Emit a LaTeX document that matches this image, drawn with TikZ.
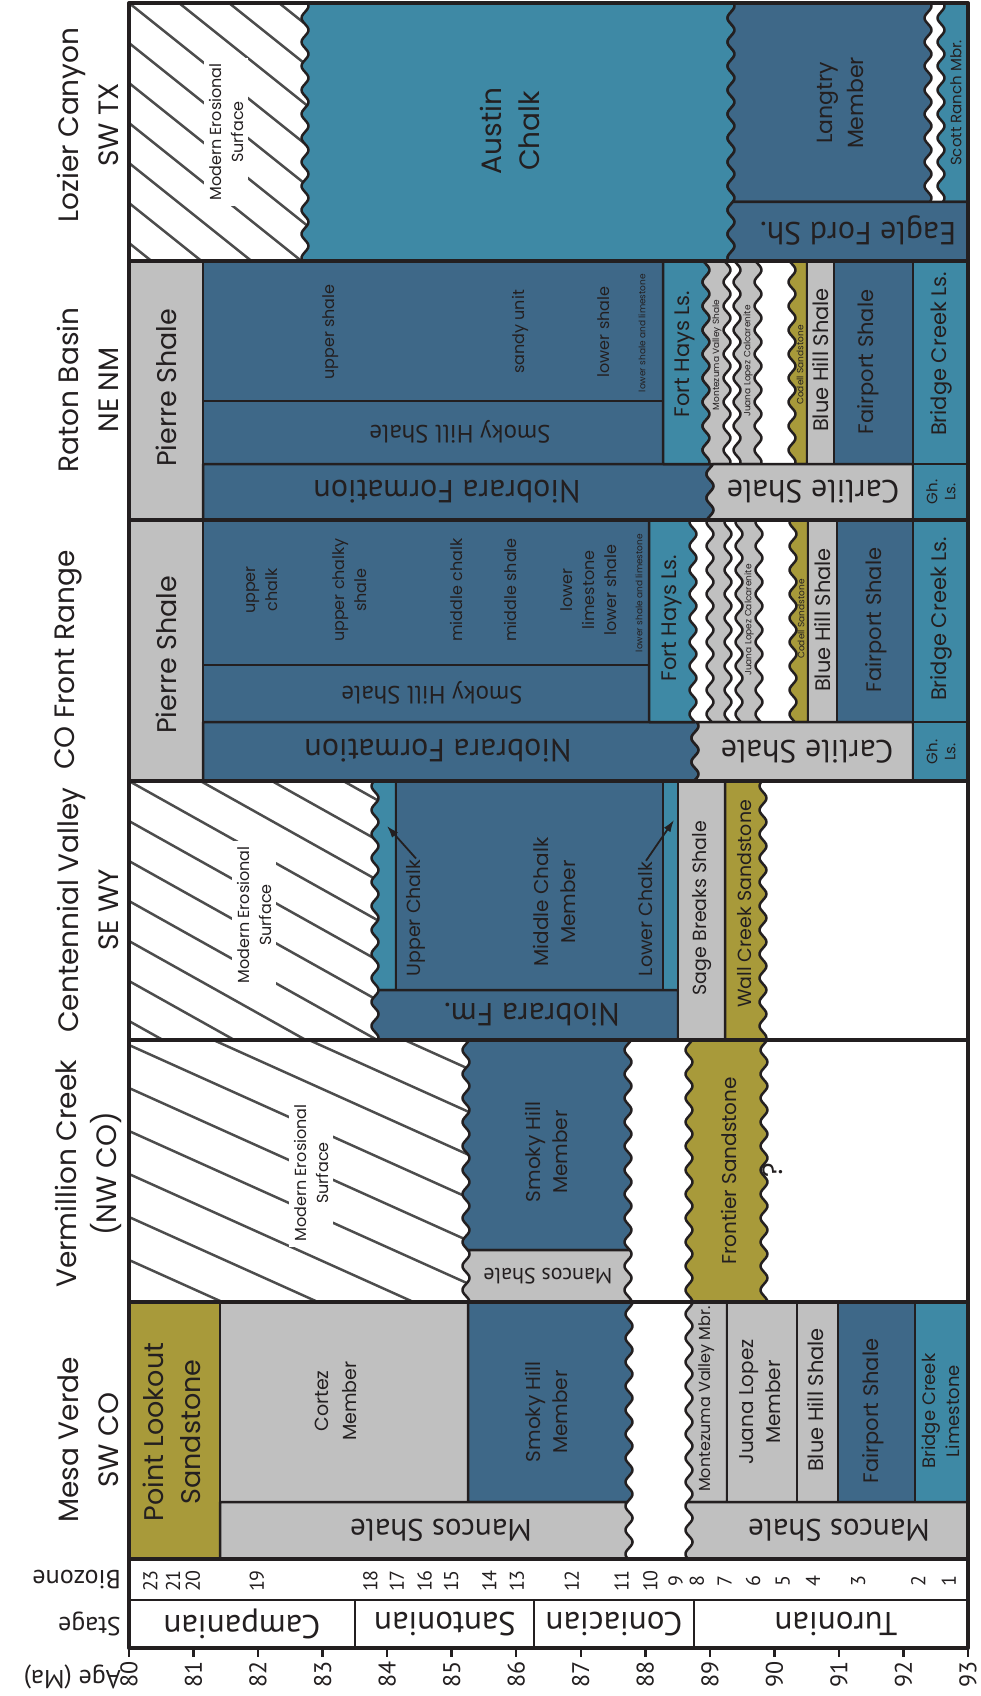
\documentclass[tikz,border=0pt]{standalone}
\usepackage{fontspec}
\setmainfont{Poppins}
\newfontfamily\ptsans{PT Sans}
\usetikzlibrary{arrows.meta}

\definecolor{ink}{HTML}{231F20}
\definecolor{chalkblue}{HTML}{3E89A5}
\definecolor{shaleblue}{HTML}{3E6888}
\definecolor{shalegray}{HTML}{C0C0C0}
\definecolor{sandolive}{HTML}{A89A3A}
\definecolor{hatchgray}{HTML}{4D4D4D}

\newcommand{\fs}[2]{\fontsize{#1}{#2}\selectfont}
\newcommand{\wvs}[3]{plot[smooth,variable=\yy,domain=#2:#3,samples=120] ({#1+3.5*sin(15*mod(\yy,24))},\yy)}
\newcommand{\wvt}[3]{--plot[smooth,variable=\yy,domain=#2:#3,samples=120] ({#1+3.5*sin(15*mod(\yy,24))},\yy)}

\tikzset{
  unit/.style={draw=ink, line width=2.5pt},
  sep/.style={draw=ink, line width=4pt},
  hatch/.style={draw=hatchgray, line width=2.5pt},
  lbl/.style={rotate=90, align=center, text=ink, inner sep=1pt},
  erosion/.style={lbl, font=\fs{16}{22}, fill=white, inner sep=5pt},
  flp/.style={rotate=180, font=\ptsans\fs{32}{36}, text=ink, inner sep=1pt},
  hdr/.style={rotate=90, align=center, text=ink, font=\fs{28}{40}},
  sml/.style={font=\fs{16}{22}},
  mid/.style={font=\fs{21}{26}},
  tiny/.style={font=\fs{9}{11}},
  bzn/.style={rotate=90, font=\ptsans\fs{20}{21}, text=ink, inner sep=0pt},
  agl/.style={rotate=90, font=\ptsans\fs{24}{26}, text=ink, inner sep=0pt},
  pointer/.style={-{Latex[length=12pt,width=8pt]}, line width=1.8pt, draw=ink}
}

\begin{document}
\begin{tikzpicture}[x=1pt, y=-1pt, line join=round]
  \useasboundingbox (0,0) rectangle (981,1696);

  % Lozier Canyon
  \begin{scope}
    \clip (129,3) \wvt{305}{3}{261} -- (129,261) -- cycle;
    \foreach \k in {-6,...,7} \draw[hatch] (129,3+40*\k) -- ++(250,200);
  \end{scope}
  \node[erosion] (lzMes) at (226,132) {Modern Erosional\\Surface};
  \filldraw[unit,fill=chalkblue] \wvs{305}{3}{261} \wvt{731}{261}{3} -- cycle;
  \filldraw[unit,fill=shaleblue] \wvs{731}{3}{202} \wvt{928}{202}{3} -- cycle;
  \filldraw[unit,fill=chalkblue] \wvs{941}{3}{202} -- (968,202) -- (968,3) -- cycle;
  \filldraw[unit,fill=shaleblue] \wvs{731}{202}{261} -- (968,261) -- (968,202) -- cycle;
  \node[lbl,font=\fs{28}{38}] (lzAus) at (510,131) {Austin\\Chalk};
  \node[lbl,font=\fs{22}{31}] (lzLan) at (840,103) {Langtry\\Member};
  \node[lbl,font=\fs{15}{18}] (lzSco) at (956,103) {Scott Ranch Mbr.};
  \node[flp] (lzEag) at (858,231) {Eagle Ford Sh.};
  \node[hdr] (hLoz) at (88,125) {Lozier Canyon\\SW TX};

  % Raton Basin
  \filldraw[unit,fill=shalegray] (129,261) rectangle (203,520);
  \filldraw[unit,fill=shaleblue] (203,261) rectangle (663,401);
  \filldraw[unit,fill=shaleblue] (203,401) rectangle (663,464);
  \filldraw[unit,fill=shaleblue] (203,464) -- (203,520) \wvt{710}{520}{464} -- cycle;
  \filldraw[unit,fill=chalkblue] (663,261) \wvt{706}{261}{464} -- (663,464) -- cycle;
  \filldraw[unit,fill=shalegray] \wvs{706}{261}{464} \wvt{727}{464}{261} -- cycle;
  \filldraw[unit,fill=shalegray] \wvs{737}{261}{464} \wvt{758}{464}{261} -- cycle;
  \filldraw[unit,fill=sandolive] \wvs{792}{261}{464} -- (807,464) -- (807,261) -- cycle;
  \filldraw[unit,fill=shalegray] (807,261) rectangle (834,464);
  \filldraw[unit,fill=shaleblue] (834,261) rectangle (913,464);
  \filldraw[unit,fill=chalkblue] (913,261) rectangle (968,464);
  \filldraw[unit,fill=shalegray] \wvs{710}{464}{520} -- (913,520) -- (913,464) -- cycle;
  \filldraw[unit,fill=chalkblue] (913,464) rectangle (968,520);
  \node[lbl,font=\fs{27}{32}] (rbPie) at (166,388) {Pierre Shale};
  \node[lbl,sml] (rbUps) at (331,332) {upper shale};
  \node[lbl,sml] (rbSan) at (520,332) {sandy unit};
  \node[lbl,sml] (rbLos) at (604,332) {lower shale};
  \node[lbl,tiny] (rbLsl) at (642,333) {lower shale and limestone};
  \node[flp,font=\ptsans\fs{25}{30}] (rbSmo) at (460,432) {Smoky Hill Shale};
  \node[flp] (rbNio) at (447,492) {Niobrara Formation};
  \node[lbl,mid] (rbFor) at (685,354) {Fort Hays Ls.};
  \node[lbl,tiny] (rbMon) at (717,355) {Montezuma Valley Shale};
  \node[lbl,tiny] (rbJua) at (748,361) {Juana Lopez Calcarenite};
  \node[lbl,tiny] (rbCod) at (800,365) {Codell Sandstone};
  \node[lbl,mid] (rbBlu) at (821,360) {Blue Hill Shale};
  \node[lbl,mid] (rbFai) at (868,362) {Fairport Shale};
  \node[lbl,mid] (rbBri) at (941,354) {Bridge Creek Ls.};
  \node[flp] (rbCar) at (813,492) {Carlile Shale};
  \node[lbl,font=\fs{15}{18}] (rbGhl) at (941,492) {Gh.\\Ls.};
  \node[hdr] (hRat) at (88,390) {Raton Basin\\NE NM};

  % CO Front Range
  \filldraw[unit,fill=shalegray] (129,520) rectangle (203,781);
  \filldraw[unit,fill=shaleblue] (203,520) rectangle (649,665);
  \filldraw[unit,fill=shaleblue] (203,665) rectangle (649,722);
  \filldraw[unit,fill=shaleblue] (203,722) -- (203,781) \wvt{695}{781}{722} -- cycle;
  \filldraw[unit,fill=chalkblue] (649,520) \wvt{693}{520}{722} -- (649,722) -- cycle;
  \filldraw[unit,fill=shalegray] \wvs{710}{520}{722} \wvt{728}{722}{520} -- cycle;
  \filldraw[unit,fill=shalegray] \wvs{739}{520}{722} \wvt{759}{722}{520} -- cycle;
  \filldraw[unit,fill=sandolive] \wvs{793}{520}{722} -- (808,722) -- (808,520) -- cycle;
  \filldraw[unit,fill=shalegray] (808,520) rectangle (837,722);
  \filldraw[unit,fill=shaleblue] (837,520) rectangle (913,722);
  \filldraw[unit,fill=chalkblue] (913,520) rectangle (968,722);
  \filldraw[unit,fill=shalegray] \wvs{695}{722}{781} -- (913,781) -- (913,722) -- cycle;
  \filldraw[unit,fill=chalkblue] (913,722) rectangle (968,781);
  \node[lbl,font=\fs{27}{32}] (frPie) at (166,655) {Pierre Shale};
  \node[lbl,sml] (frUch) at (262,590) {upper\\chalk};
  \node[lbl,sml] (frUcs) at (350,590) {upper chalky\\shale};
  \node[lbl,sml] (frMch) at (456,590) {middle chalk};
  \node[lbl,sml] (frMsh) at (510,590) {middle shale};
  \node[lbl,sml] (frLls) at (589,590) {lower\\limestone\\lower shale};
  \node[lbl,tiny] (frLsl) at (639,593) {lower shale and limestone};
  \node[flp,font=\ptsans\fs{25}{30}] (frSmo) at (432,693) {Smoky Hill Shale};
  \node[flp] (frNio) at (438,751) {Niobrara Formation};
  \node[lbl,mid] (frFor) at (672,618) {Fort Hays Ls.};
  \node[lbl,tiny] (frJua) at (749,620) {Juana Lopez Calcarenite};
  \node[lbl,tiny] (frCod) at (801,619) {Codell Sandstone};
  \node[lbl,mid] (frBlu) at (823,620) {Blue Hill Shale};
  \node[lbl,mid] (frFai) at (876,620) {Fairport Shale};
  \node[lbl,mid] (frBri) at (941,619) {Bridge Creek Ls.};
  \node[flp] (frCar) at (807,752) {Carlile Shale};
  \node[lbl,font=\fs{15}{18}] (frGhl) at (941,752) {Gh.\\Ls.};
  \node[hdr] (hFro) at (68,660) {CO Front Range};

  % Centennial Valley
  \begin{scope}
    \clip (129,781) \wvt{375}{781}{1040} -- (129,1040) -- cycle;
    \foreach \k in {-8,...,7} \draw[hatch] (129,781+40*\k) -- ++(300,168);
  \end{scope}
  \node[erosion] (cvMes) at (254,915) {Modern Erosional\\Surface};
  \filldraw[unit,fill=chalkblue] \wvs{375}{781}{990} -- (396,990) -- (396,781) -- cycle;
  \filldraw[unit,fill=shaleblue] (396,781) rectangle (663,990);
  \filldraw[unit,fill=chalkblue] (663,781) rectangle (678,990);
  \filldraw[unit,fill=shaleblue] \wvs{375}{990}{1040} -- (678,1040) -- (678,990) -- cycle;
  \filldraw[unit,fill=shalegray] (678,781) rectangle (725,1040);
  \filldraw[unit,fill=sandolive] (725,781) \wvt{763}{781}{1040} -- (725,1040) -- cycle;
  \node[lbl,font=\fs{19}{24}] (cvUpp) at (416,918) {Upper Chalk};
  \node[lbl,font=\fs{20}{27}] (cvMid) at (554,902) {Middle Chalk\\Member};
  \node[lbl,font=\fs{19}{24}] (cvLow) at (646,919) {Lower Chalk};
  \node[flp] (cvNio) at (532,1015) {Niobrara Fm.};
  \node[lbl,font=\fs{19}{24}] (cvSag) at (702,908) {Sage Breaks Shale};
  \node[lbl,font=\fs{19}{24}] (cvWal) at (745,904) {Wall Creek Sandstone};
  \coordinate (cvUtip) at (387,826);
  \coordinate (cvLtip) at (674,820);
  \draw[pointer] (cvUpp.east) -- (cvUtip);
  \draw[pointer] (cvLow.east) -- (cvLtip);
  \node[hdr] (hCen) at (88,910) {Centennial Valley\\SE WY};

  % Vermillion Creek
  \begin{scope}
    \clip (129,1040) \wvt{466}{1040}{1302} -- (129,1302) -- cycle;
    \foreach \k in {-9,...,7} \draw[hatch] (129,1045+43*\k) -- ++(400,180);
  \end{scope}
  \node[erosion] (vcMes) at (311,1173) {Modern Erosional\\Surface};
  \filldraw[unit,fill=shaleblue] \wvs{466}{1040}{1250} \wvt{628}{1250}{1040} -- cycle;
  \filldraw[unit,fill=shalegray] \wvs{466}{1250}{1302} \wvt{628}{1302}{1250} -- cycle;
  \filldraw[unit,fill=sandolive] \wvs{689}{1040}{1302} \wvt{764}{1302}{1040} -- cycle;
  \node[lbl,font=\fs{20}{27}] (vcSmo) at (546,1152) {Smoky Hill\\Member};
  \node[flp,font=\ptsans\fs{22}{26}] (vcMan) at (548,1276) {Mancos Shale};
  \node[lbl,font=\fs{20}{24}] (vcFro) at (729,1171) {Frontier Sandstone};
  \node[lbl,font=\fs{28}{30}] (vcQue) at (773,1170) {?};
  \node[hdr] (hVer) at (88,1174) {Vermillion Creek\\(NW CO)};

  % Mesa Verde
  \filldraw[unit,fill=sandolive] (129,1302) rectangle (220,1559);
  \filldraw[unit,fill=shalegray] (220,1302) rectangle (468,1502);
  \filldraw[unit,fill=shaleblue] (468,1302) \wvt{629}{1302}{1502} -- (468,1502) -- cycle;
  \filldraw[unit,fill=shalegray] (220,1502) \wvt{629}{1502}{1559} -- (220,1559) -- cycle;
  \filldraw[unit,fill=shalegray] \wvs{689}{1302}{1502} -- (727,1502) -- (727,1302) -- cycle;
  \filldraw[unit,fill=shalegray] (727,1302) rectangle (797,1502);
  \filldraw[unit,fill=shalegray] (797,1302) rectangle (838,1502);
  \filldraw[unit,fill=shaleblue] (838,1302) rectangle (915,1502);
  \filldraw[unit,fill=chalkblue] (915,1302) rectangle (968,1502);
  \filldraw[unit,fill=shalegray] \wvs{689}{1502}{1559} -- (968,1559) -- (968,1502) -- cycle;
  \node[lbl,font=\fs{27}{37}] (mvPoi) at (172,1432) {Point Lookout\\Sandstone};
  \node[lbl,font=\fs{19}{28}] (mvCor) at (336,1401) {Cortez\\Member};
  \node[lbl,font=\fs{20}{27}] (mvSmo) at (546,1412) {Smoky Hill\\Member};
  \node[flp,font=\ptsans\fs{31}{36}] (mvMaL) at (441,1530) {Mancos Shale};
  \node[lbl,font=\fs{16}{20}] (mvMon) at (707,1399) {Montezuma Valley Mbr.};
  \node[lbl,font=\fs{20}{27}] (mvJua) at (760,1402) {Juana Lopez\\Member};
  \node[lbl,mid] (mvBlu) at (816,1400) {Blue Hill Shale};
  \node[lbl,mid] (mvFai) at (873,1411) {Fairport Shale};
  \node[lbl,font=\fs{18}{24}] (mvBri) at (941,1411) {Bridge Creek\\Limestone};
  \node[flp,font=\ptsans\fs{31}{36}] (mvMaR) at (839,1530) {Mancos Shale};
  \node[hdr] (hMes) at (88,1440) {Mesa Verde\\SW CO};

  % biozones, stages, age axis
  \draw[unit] (129,1600) -- (968,1600);
  \foreach \x in {355,534,694} \draw[unit] (\x,1600) -- (\x,1648);
  \node[flp,font=\ptsans\fs{33}{36}] (stCam) at (242,1624) {Campanian};
  \node[flp,font=\ptsans\fs{33}{36}] (stSan) at (445,1624) {Santonian};
  \node[flp,font=\ptsans\fs{33}{36}] (stCon) at (614,1624) {Coniacian};
  \node[flp,font=\ptsans\fs{33}{36}] (stTur) at (836,1624) {Turonian};
  \node[flp,font=\ptsans\fs{26}{30},anchor=west] (lbBio) at (122,1580) {Biozone};
  \node[flp,font=\ptsans\fs{26}{30},anchor=west] (lbSta) at (122,1624) {Stage};
  \node[flp,font=\ptsans\fs{26}{30},anchor=west] (lbAge) at (122,1677) {Age (Ma)};
  \foreach \a/\n in {80.33/23,80.68/21,80.99/20,81.98/19,83.74/18,84.15/17,84.58/16,84.99/15,85.58/14,86.01/13,86.86/12,87.63/11,88.08/10,88.47/9,88.80/8,89.23/7,89.67/6,90.13/5,90.60/4,91.30/3,92.23/2,92.70/1}
    \node[bzn] (bz\n) at ({129+64.54*(\a-80)},1581) {\n};
  \foreach \k in {0,...,13} {
    \draw[unit] ({129+64.54*\k},1648) -- ++(0,9);
    \pgfmathtruncatemacro\ag{80+\k}
    \node[agl,anchor=east] (ag\ag) at ({129+64.54*\k},1661) {\ag};
  }

  % frame
  \foreach \y in {261,520,781,1040,1302,1559} \draw[sep] (129,\y) -- (968,\y);
  \draw[sep] (129,3) rectangle (968,1648);
\end{tikzpicture}
\end{document}
